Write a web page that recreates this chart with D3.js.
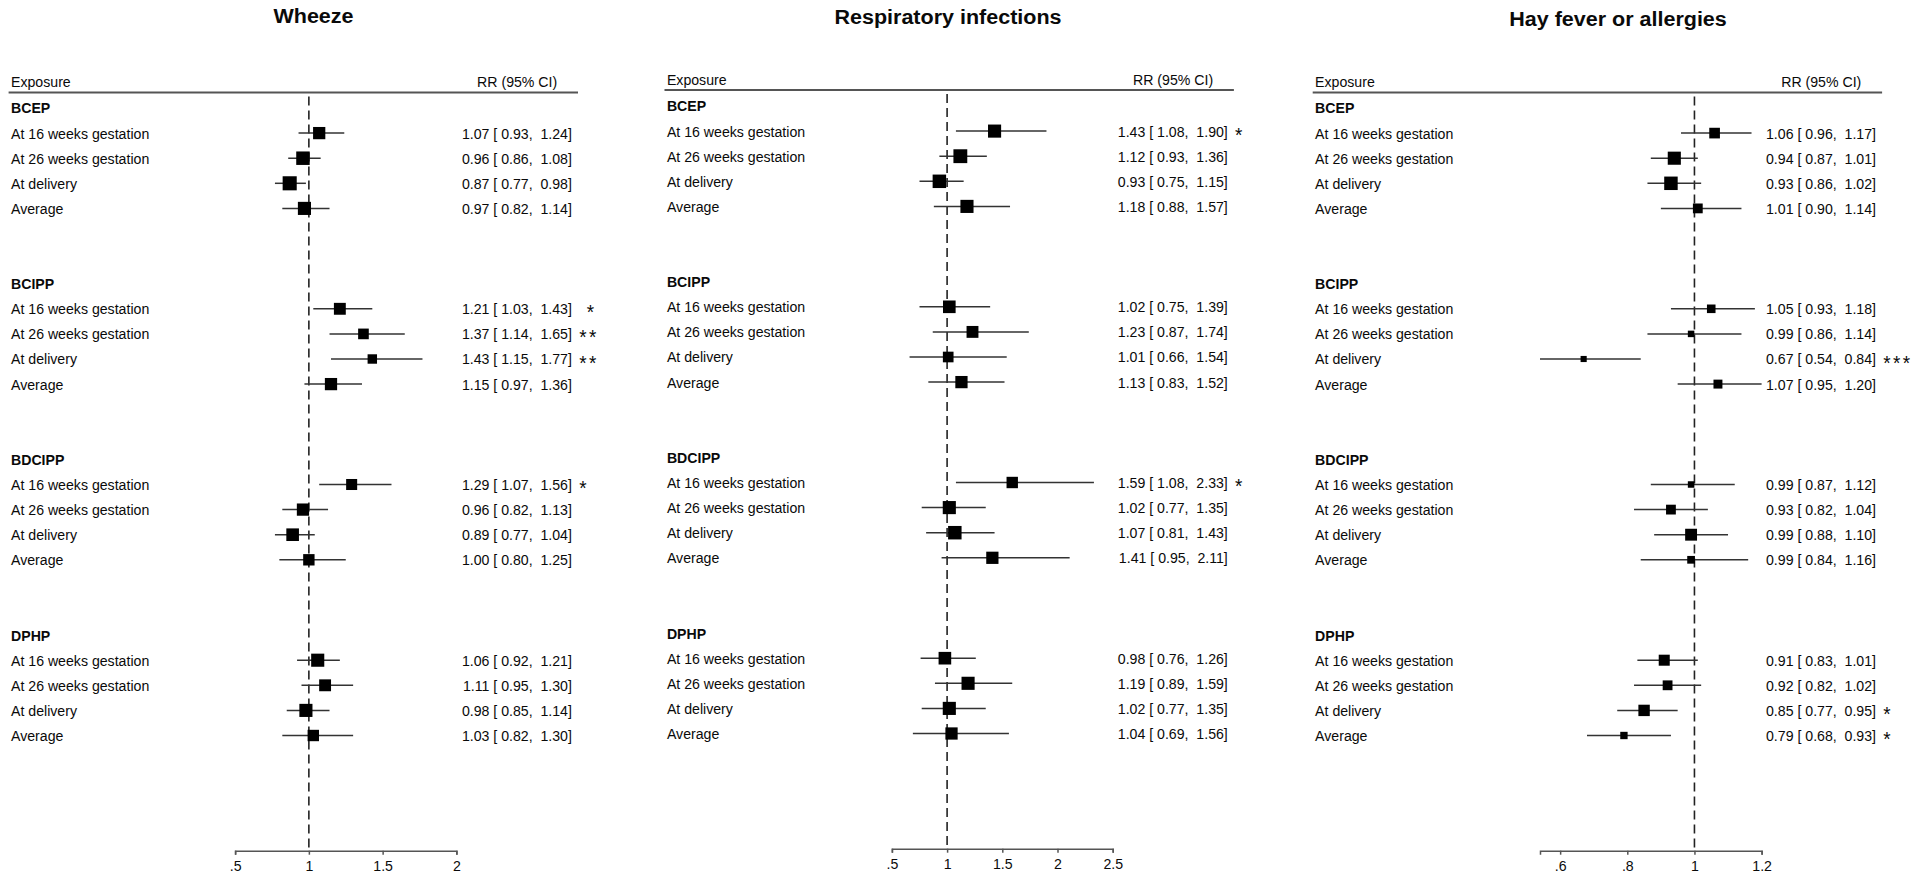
<!DOCTYPE html>
<html>
<head>
<meta charset="utf-8">
<script src="https://cdn.jsdelivr.net/npm/d3@7"></script>
<style>
  body{margin:0;background:#fff;}
  svg{display:block;}
  text{font-family:"Liberation Sans",Arial,sans-serif;fill:#0a0a0a;}
</style>
</head>
<body>
<script>
//categories shared by the three panels
const groups=["BCEP","BCIPP","BDCIPP","DPHP"]
const rowLabels=["At 16 weeks gestation","At 26 weeks gestation","At delivery","Average"]
const outcomes=["Wheeze","Respiratory infections","Hay fever or allergies"]

//Wheeze (4 groups x 4 rows, read top to bottom)
const wheezeRR=[1.07,0.96,0.87,0.97, 1.21,1.37,1.43,1.15, 1.29,0.96,0.89,1.00, 1.06,1.11,0.98,1.03]
const wheezeLo=[0.93,0.86,0.77,0.82, 1.03,1.14,1.15,0.97, 1.07,0.82,0.77,0.80, 0.92,0.95,0.85,0.82]
const wheezeHi=[1.24,1.08,0.98,1.14, 1.43,1.65,1.77,1.36, 1.56,1.13,1.04,1.25, 1.21,1.30,1.14,1.30]
const wheezeStars=["","","","", "\u00a0*","**","**","", "*","","","", "","","",""]
const wheezeWeight=[10,11,11.5,10.7, 9.7,8.7,7.7,10, 9,10,10.3,9.3, 10.7,9.7,10.7,9.3]
const wheezeTicks=[0.5,1,1.5,2]
const wheezeTickLabels=[".5","1","1.5","2"]

//Respiratory infections
const respRR=[1.43,1.12,0.93,1.18, 1.02,1.23,1.01,1.13, 1.59,1.02,1.07,1.41, 0.98,1.19,1.02,1.04]
const respLo=[1.08,0.93,0.75,0.88, 0.75,0.87,0.66,0.83, 1.08,0.77,0.81,0.95, 0.76,0.89,0.77,0.69]
const respHi=[1.90,1.36,1.15,1.57, 1.39,1.74,1.54,1.52, 2.33,1.35,1.43,2.11, 1.26,1.59,1.35,1.56]
const respStars=["*","","","", "","","","", "*","","","", "","","",""]
const respWeight=[10.7,11.3,11,10.7, 10.3,9.7,8.7,10, 9.3,10.7,11,10, 10.3,10.7,10.7,10]
const respTicks=[0.5,1,1.5,2,2.5]
const respTickLabels=[".5","1","1.5","2","2.5"]

//Hay fever or allergies
const hayRR=[1.06,0.94,0.93,1.01, 1.05,0.99,0.67,1.07, 0.99,0.93,0.99,0.99, 0.91,0.92,0.85,0.79]
const hayLo=[0.96,0.87,0.86,0.90, 0.93,0.86,0.54,0.95, 0.87,0.82,0.88,0.84, 0.83,0.82,0.77,0.68]
const hayHi=[1.17,1.01,1.02,1.14, 1.18,1.14,0.84,1.20, 1.12,1.04,1.10,1.16, 1.01,1.02,0.95,0.93]
const hayStars=["","","","", "","","***","", "","","","", "","","*","*"]
const hayWeight=[8.7,10.7,11,8, 7,5.3,5,7.3, 5.3,8,9.7,6.3, 9,8,9.3,6]
const hayTicks=[0.6,0.8,1,1.2]
const hayTickLabels=[".6",".8","1","1.2"]

//layout of every panel (pixels)
const panels=[
  {title:outcomes[0],rr:wheezeRR,lo:wheezeLo,hi:wheezeHi,stars:wheezeStars,w:wheezeWeight,ticks:wheezeTicks,tickLabels:wheezeTickLabels,
   left:8.6,titleX:313.5,titleY:23,x0:235.1,x1:456.4,top:108,axisY:850.7,headY:87,lineY:92.5},
  {title:outcomes[1],rr:respRR,lo:respLo,hi:respHi,stars:respStars,w:respWeight,ticks:respTicks,tickLabels:respTickLabels,
   left:664.5,titleX:948,titleY:23.5,x0:891.9,x1:1112.7,top:106,axisY:848.7,headY:85,lineY:90},
  {title:outcomes[2],rr:hayRR,lo:hayLo,hi:hayHi,stars:hayStars,w:hayWeight,ticks:hayTicks,tickLabels:hayTickLabels,
   left:1312.7,titleX:1618,titleY:26,x0:1540,x1:1761.6,top:108,axisY:850.7,headY:87,lineY:92.5}
]

const rowStep=25.1
const sx=0.943   //text is a little narrower than Arial
const fmt=d3.format(".2f")

const svg=d3.select("body").append("svg").attr("width",1920).attr("height",882)

//put a horizontally squeezed text at x,y
function txt(g,x,y,str,size,anchor,bold,scale){
  return g.append("text")
    .attr("transform","translate("+x+","+y+") scale("+(scale||sx)+",1)")
    .attr("font-size",size)
    .attr("font-weight",bold?"bold":"normal")
    .attr("text-anchor",anchor||"start")
    .attr("xml:space","preserve")
    .style("white-space","pre")
    .text(str)
}

function drawPanel(p){
  const g=svg.append("g")
  const lo=Math.min(p.ticks[0],d3.min(p.lo))
  const hi=Math.max(p.ticks[p.ticks.length-1],d3.max(p.hi))
  const x=d3.scaleLinear().domain([lo,hi]).range([p.x0,p.x1])
  const y=d3.scaleLinear().domain([0,1]).range([p.top,p.top+rowStep])
  const size=d3.scaleLinear().domain([0,12]).range([0,14.7])

  const rows=p.rr.map((v,i)=>({rr:v,lo:p.lo[i],hi:p.hi[i],star:p.stars[i],w:p.w[i],
    label:rowLabels[i%4],idx:Math.floor(i/4)*7+1+i%4}))

  //title and header
  txt(g,p.titleX,p.titleY,p.title,20.5,"middle",true,1.05).attr("fill","#000")
  txt(g,p.left+2.4,p.headY,"Exposure",15,"start")
  txt(g,p.left+548.6,p.headY,"RR (95% CI)",15,"end")
  g.append("line").attr("x1",p.left).attr("x2",p.left+569.4).attr("y1",p.lineY).attr("y2",p.lineY)
    .attr("stroke","#555").attr("stroke-width",2)

  //group names
  groups.forEach((d,i)=>txt(g,p.left+2.4,y(i*7)+5.4,d,15,"start",true))

  //row labels, estimates and stars
  rows.forEach(d=>{
    txt(g,p.left+2.4,y(d.idx)+5.4,d.label,15,"start")
    txt(g,p.left+563.3,y(d.idx)+5.4,fmt(d.rr)+" [ "+fmt(d.lo)+",  "+fmt(d.hi)+"]",15,"end")
    if(d.star) txt(g,p.left+570.6,y(d.idx)+10.5,d.star,20,"start").attr("letter-spacing",2.5)
  })

  //reference line at RR = 1
  g.append("line").attr("x1",x(1)).attr("x2",x(1)).attr("y1",p.lineY+4).attr("y2",p.axisY)
    .attr("stroke","#222").attr("stroke-width",1.6).attr("stroke-dasharray","9,5")

  //confidence intervals
  g.selectAll(".ci").data(rows).enter().append("line").attr("class","ci")
    .attr("x1",d=>x(d.lo)).attr("x2",d=>x(d.hi)).attr("y1",d=>y(d.idx)).attr("y2",d=>y(d.idx))
    .attr("stroke","#333").attr("stroke-width",1.5)

  //boxes, side grows with the weight
  g.selectAll(".box").data(rows).enter().append("rect").attr("class","box")
    .attr("x",d=>x(d.rr)-size(d.w)/2).attr("y",d=>y(d.idx)-size(d.w)/2)
    .attr("width",d=>size(d.w)).attr("height",d=>size(d.w)).attr("fill","#000")

  //x axis
  const axis=d3.axisBottom(x).tickValues(p.ticks).tickFormat((d,i)=>p.tickLabels[i])
    .tickSizeOuter(0).tickSize(4).tickPadding(6)
  const ag=g.append("g").attr("transform","translate(0,"+p.axisY+")").call(axis)
  ag.select(".domain").attr("stroke","#555").attr("stroke-width",1.5)
  ag.selectAll(".tick line").attr("stroke","#555").attr("stroke-width",1.5)
  ag.selectAll("text").attr("font-size",15).attr("fill","#111")
    .attr("font-family","'Liberation Sans',Arial,sans-serif").attr("transform","scale("+sx+",1)")
}

panels.forEach(p=>drawPanel(p))
</script>
</body>
</html>
